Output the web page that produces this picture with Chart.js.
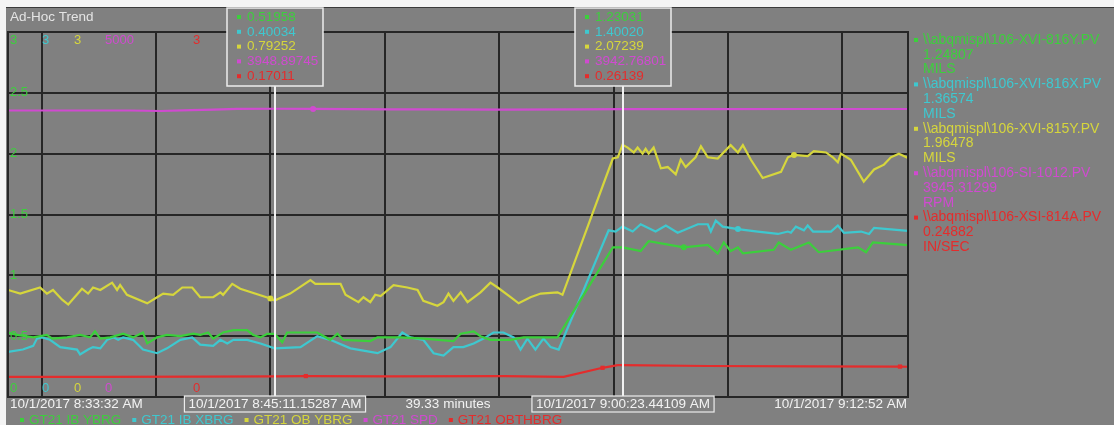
<!DOCTYPE html>
<html>
<head>
<meta charset="utf-8">
<script src="https://cdn.jsdelivr.net/npm/chart.js@4.4.0/dist/chart.umd.min.js"></script>
<style>
  body { margin: 0; background: #808080; }
  canvas { display: block; }
</style>
</head>
<body>
<canvas id="trend" width="1114" height="425"></canvas>
<script>
// time axis: seconds after 10/1/2017 8:33:32 AM
var startSec = 8 * 3600 + 33 * 60 + 32;
var spanSec = 2360;
var gridSec = [88, 388, 688, 988, 1288, 1588, 1888, 2188];
var cursorSec = [699.15287, 1611.44109];

var names = ['GT21 IB YBRG', 'GT21 IB XBRG', 'GT21 OB YBRG', 'GT21 SPD', 'GT21 OBTHBRG'];
var tags = ['\\\\abqmispl\\106-XVI-816Y.PV', '\\\\abqmispl\\106-XVI-816X.PV', '\\\\abqmispl\\106-XVI-815Y.PV',
            '\\\\abqmispl\\106-SI-1012.PV', '\\\\abqmispl\\106-XSI-814A.PV'];
var units = ['MILS', 'MILS', 'MILS', 'RPM', 'IN/SEC'];
var scaleTop = ['3', '3', '3', '5000', '3'];
var scaleBottom = ['0', '0', '0', '0', '0'];
var colors = ['#3ccf3c', '#3ec8cf', '#d6d63c', '#d04ad0', '#e42c2c'];

var ibYTimes = [0, 24, 66, 102, 116, 155, 189, 215, 228, 242, 268, 302, 328, 354, 365, 391, 417, 452, 486, 504,
  525, 538, 564, 591, 627, 643, 662, 680, 699.15287, 719, 732, 767, 811, 845, 864, 879, 950, 969, 1029, 1089,
  1168, 1187, 1221, 1239, 1265, 1318, 1352, 1441, 1586, 1611.44109, 1659, 1680, 1772, 1835, 1861, 1877, 1895,
  1914, 1927, 2008, 2021, 2053, 2100, 2126, 2229, 2250, 2268, 2360];
var ibYValues = [0.53, 0.51, 0.49, 0.51, 0.48, 0.49, 0.51, 0.49, 0.54, 0.48, 0.49, 0.52, 0.49, 0.53, 0.44, 0.49,
  0.51, 0.50, 0.52, 0.51, 0.53, 0.48, 0.53, 0.55, 0.55, 0.51, 0.49, 0.52, 0.51958, 0.45, 0.53, 0.53, 0.53, 0.47,
  0.52, 0.47, 0.46, 0.49, 0.49, 0.48, 0.46, 0.52, 0.54, 0.50, 0.47, 0.47, 0.49, 0.49, 1.23, 1.23031, 1.20, 1.28,
  1.23, 1.25, 1.18, 1.27, 1.20, 1.23, 1.18, 1.21, 1.27, 1.21, 1.27, 1.19, 1.23, 1.19, 1.27, 1.24807];

var ibXTimes = [0, 39, 66, 76, 89, 110, 137, 181, 189, 210, 223, 242, 260, 276, 289, 302, 328, 354, 391, 417,
  452, 483, 504, 538, 557, 575, 591, 627, 662, 699.15287, 767, 811, 845, 898, 969, 1003, 1034, 1055, 1089, 1116,
  1142, 1168, 1194, 1221, 1247, 1273, 1299, 1326, 1344, 1362, 1383, 1404, 1423, 1444, 1575, 1593, 1611.44109,
  1638, 1659, 1698, 1725, 1756, 1809, 1835, 1843, 1856, 1874, 1914, 1966, 2019, 2045, 2053, 2066, 2087, 2097,
  2111, 2158, 2176, 2192, 2237, 2258, 2271, 2360];
var ibXValues = [0.37, 0.39, 0.42, 0.48, 0.49, 0.47, 0.41, 0.39, 0.35, 0.39, 0.41, 0.40, 0.47, 0.49, 0.47, 0.49,
  0.47, 0.39, 0.36, 0.40, 0.47, 0.49, 0.43, 0.42, 0.47, 0.44, 0.47, 0.47, 0.44, 0.40034, 0.41, 0.50, 0.47, 0.40,
  0.36, 0.41, 0.53, 0.49, 0.47, 0.36, 0.34, 0.41, 0.41, 0.44, 0.48, 0.53, 0.53, 0.49, 0.39, 0.48, 0.39, 0.48,
  0.41, 0.39, 1.37, 1.36, 1.40020, 1.36, 1.42, 1.36, 1.41, 1.35, 1.42, 1.42, 1.36, 1.45, 1.40, 1.38, 1.36, 1.34,
  1.36, 1.35, 1.40, 1.37, 1.41, 1.36, 1.36, 1.41, 1.35, 1.36, 1.34, 1.39, 1.36574];

var obYTimes = [0, 32, 84, 102, 118, 142, 158, 194, 210, 223, 242, 273, 286, 294, 312, 365, 391, 407, 433, 457,
  483, 504, 538, 557, 564, 588, 609, 688, 699.15287, 740, 793, 806, 872, 885, 919, 932, 950, 963, 977, 1011,
  1047, 1074, 1089, 1126, 1142, 1155, 1168, 1187, 1205, 1239, 1265, 1284, 1318, 1339, 1370, 1397, 1441, 1454,
  1586, 1599, 1611.44109, 1625, 1641, 1651, 1664, 1672, 1680, 1693, 1712, 1730, 1751, 1764, 1777, 1803, 1817,
  1835, 1861, 1895, 1914, 1927, 1948, 1979, 2027, 2045, 2061, 2097, 2113, 2145, 2163, 2176, 2184, 2210, 2244,
  2271, 2297, 2315, 2336, 2360];
var obYValues = [0.88, 0.85, 0.90, 0.85, 0.88, 0.80, 0.76, 0.89, 0.85, 0.90, 0.88, 0.94, 0.88, 0.92, 0.84, 0.77,
  0.82, 0.85, 0.84, 0.90, 0.90, 0.82, 0.82, 0.86, 0.84, 0.93, 0.89, 0.81, 0.79252, 0.85, 0.96, 0.93, 0.93, 0.84,
  0.78, 0.82, 0.78, 0.84, 0.83, 0.92, 0.90, 0.88, 0.79, 0.75, 0.78, 0.85, 0.79, 0.86, 0.78, 0.86, 0.94, 0.90,
  0.82, 0.77, 0.82, 0.85, 0.86, 0.84, 1.96, 1.97, 2.07239, 2.05, 2.01, 2.05, 2.00, 2.04, 2.00, 2.05, 1.88, 1.89,
  1.83, 1.95, 1.89, 1.97, 2.06, 1.97, 1.96, 2.07, 2.01, 2.07, 1.95, 1.80, 1.85, 1.97, 1.99, 1.98, 2.02, 2.01,
  1.97, 1.93, 2.00, 1.95, 1.77, 1.87, 1.91, 1.97, 2.00, 1.96478];

var spdTimes = [0, 320, 400, 480, 540, 600, 699.15287, 800, 900, 1000, 1100, 1300, 1500, 1611.44109, 1800, 2100, 2360];
var spdValues = [3925, 3925, 3918, 3930, 3938, 3946, 3948.89745, 3946, 3943, 3940, 3941, 3938, 3941, 3942.76801,
  3944, 3945, 3945.31299];

var obThTimes = [0, 242, 504, 699.15287, 781, 1000, 1300, 1457, 1559, 1599, 1611.44109, 1835, 2100, 2339, 2360];
var obThValues = [0.165, 0.165, 0.168, 0.17011, 0.172, 0.17, 0.172, 0.166, 0.24, 0.262, 0.26139, 0.255, 0.252,
  0.25, 0.24882];

// samples that carry a dot on the trace
var markTimes = [[1772], [1914], [688, 2061], [800], [781, 1559, 2339]];

var seriesTimes = [ibYTimes, ibXTimes, obYTimes, spdTimes, obThTimes];
var seriesValues = [ibYValues, ibXValues, obYValues, spdValues, obThValues];

var FONT = '"Liberation Sans", Arial, sans-serif';
var BG = '#808080';

function pts(times, values) {
  return times.map(function (t, i) { return { x: t, y: values[i] }; });
}

function clock(sec, decimals) {
  var h = Math.floor(sec / 3600);
  var m = Math.floor((sec % 3600) / 60);
  var s = sec - h * 3600 - m * 60;
  var ss = decimals ? s.toFixed(decimals) : String(Math.round(s));
  if (s < 10) ss = '0' + ss;
  var ampm = h >= 12 ? 'PM' : 'AM';
  return '10/1/2017 ' + (h % 12 || 12) + ':' + (m < 10 ? '0' : '') + m + ':' + ss + ' ' + ampm;
}

function valueAt(i, t) {
  var k = seriesTimes[i].indexOf(t);
  return seriesValues[i][k];
}

var datasets = names.map(function (n, i) {
  return {
    label: n,
    data: pts(seriesTimes[i], seriesValues[i]),
    yAxisID: i === 3 ? 'ySpd' : 'y',
    borderColor: colors[i],
    backgroundColor: colors[i],
    borderWidth: 2.2,
    tension: 0,
    pointStyle: i === 4 ? 'rect' : 'circle',
    pointBorderWidth: 0,
    pointRadius: function (ctx) {
      return markTimes[i].indexOf(ctx.raw.x) !== -1 ? 3 : 0;
    }
  };
});

var decor = {
  id: 'decor',
  beforeDraw: function (chart) {
    var c = chart.ctx;
    c.save();
    c.fillStyle = BG;
    c.fillRect(0, 0, chart.width, chart.height);
    c.fillStyle = '#f4f4f4';
    c.fillRect(0, 0, chart.width, 7);
    c.fillRect(0, 0, 6, chart.height);
    c.fillStyle = '#3a3a3a';
    c.fillRect(6, 7, chart.width - 6, 1);
    c.fillStyle = '#e4e4e4';
    c.font = '13.5px ' + FONT;
    c.textBaseline = 'middle';
    c.fillText('Ad-Hoc Trend', 10, 17);
    c.restore();
  },
  afterDatasetsDraw: function (chart) {
    var c = chart.ctx, a = chart.chartArea;
    var xs = chart.scales.x, ys = chart.scales.y;
    c.save();
    // frame
    c.strokeStyle = '#262626';
    c.lineWidth = 2;
    c.strokeRect(a.left, a.top, a.right - a.left, a.bottom - a.top);

    // per-series scale ends
    var lx = [10, 42, 74, 105, 193];
    c.font = '13px ' + FONT;
    c.textBaseline = 'middle';
    c.textAlign = 'left';
    for (var i = 0; i < 5; i++) {
      c.fillStyle = colors[i];
      c.fillText(scaleTop[i], lx[i], a.top + 8);
      c.fillText(scaleBottom[i], lx[i], a.bottom - 9);
    }
    // value labels on the horizontal grid
    c.fillStyle = colors[0];
    ys.ticks.forEach(function (t) {
      if (t.value > 0 && t.value < 3) c.fillText(String(t.value), 10, ys.getPixelForValue(t.value));
    });

    // cursors
    c.strokeStyle = '#f2f2f2';
    c.lineWidth = 2;
    cursorSec.forEach(function (t) {
      var x = Math.round(xs.getPixelForValue(t));
      c.beginPath();
      c.moveTo(x, 86);
      c.lineTo(x, a.bottom);
      c.stroke();
    });
    c.restore();
  },
  afterDraw: function (chart) {
    var c = chart.ctx, a = chart.chartArea;
    var xs = chart.scales.x;
    c.save();
    c.textBaseline = 'middle';

    // cursor readouts
    cursorSec.forEach(function (t) {
      var x = Math.round(xs.getPixelForValue(t));
      var bx = x - 48, bw = 96;
      c.fillStyle = BG;
      c.fillRect(bx, 8, bw, 78);
      c.strokeStyle = '#ececec';
      c.lineWidth = 1.5;
      c.strokeRect(bx, 8, bw, 78);
      c.font = '13.5px ' + FONT;
      c.textAlign = 'left';
      for (var i = 0; i < 5; i++) {
        var y = 17 + i * 14.8;
        c.fillStyle = colors[i];
        c.fillRect(bx + 10, y - 2, 4, 4);
        c.fillText(valueAt(i, t).toFixed(5), bx + 20, y);
      }
      // time tag under the plot
      var label = clock(startSec + t, 5);
      var w = c.measureText(label).width;
      c.fillStyle = BG;
      c.fillRect(x - w / 2 - 4, a.bottom - 1, w + 8, 16);
      c.strokeStyle = '#ececec';
      c.lineWidth = 1.2;
      c.strokeRect(x - w / 2 - 4, a.bottom - 1, w + 8, 16);
      c.fillStyle = '#f2f2f2';
      c.textAlign = 'center';
      c.fillText(label, x, a.bottom + 7);
    });

    // range labels
    c.font = '13.5px ' + FONT;
    c.fillStyle = '#f2f2f2';
    c.textAlign = 'left';
    c.fillText(clock(startSec, 0), 10, a.bottom + 7);
    c.textAlign = 'right';
    c.fillText(clock(startSec + spanSec, 0), a.right - 1, a.bottom + 7);
    c.textAlign = 'center';
    c.fillText((spanSec / 60).toFixed(2) + ' minutes', 448, a.bottom + 7);

    // bottom legend
    c.font = '13.5px ' + FONT;
    c.textAlign = 'left';
    var lx = 20;
    for (var i = 0; i < 5; i++) {
      c.fillStyle = colors[i];
      c.fillRect(lx, 418, 4, 4);
      c.fillText(names[i], lx + 9, 420);
      lx += 9 + c.measureText(names[i]).width + 11;
    }

    // right legend: tag, latest value, unit
    c.font = '14px ' + FONT;
    var row = 0;
    for (var i = 0; i < 5; i++) {
      var vals = seriesValues[i];
      var lines = [tags[i], vals[vals.length - 1].toFixed(5), units[i]];
      c.fillStyle = colors[i];
      for (var k = 0; k < 3; k++) {
        var y = 40 + row * 14.8;
        if (k === 0) c.fillRect(914, y - 2, 4, 4);
        c.fillText(lines[k], 923, y);
        row++;
      }
    }
    c.restore();
  }
};

new Chart(document.getElementById('trend'), {
  type: 'line',
  data: { datasets: datasets },
  options: {
    responsive: false,
    animation: false,
    parsing: false,
    layout: { padding: { left: 8, top: 32, right: 206, bottom: 28 } },
    plugins: { legend: { display: false }, tooltip: { enabled: false }, title: { display: false } },
    scales: {
      x: {
        type: 'linear',
        min: 0,
        max: spanSec,
        afterBuildTicks: function (scale) {
          scale.ticks = gridSec.map(function (v) { return { value: v }; });
        },
        ticks: { display: false },
        grid: { color: '#262626', lineWidth: 2, drawTicks: false },
        border: { display: false }
      },
      y: {
        min: 0,
        max: 3,
        ticks: { display: false, stepSize: 0.5 },
        grid: { color: '#262626', lineWidth: 2, drawTicks: false },
        border: { display: false }
      },
      ySpd: { type: 'linear', axis: 'y', position: 'right', min: 0, max: 5000, display: false }
    }
  },
  plugins: [decor]
});
</script>
</body>
</html>
